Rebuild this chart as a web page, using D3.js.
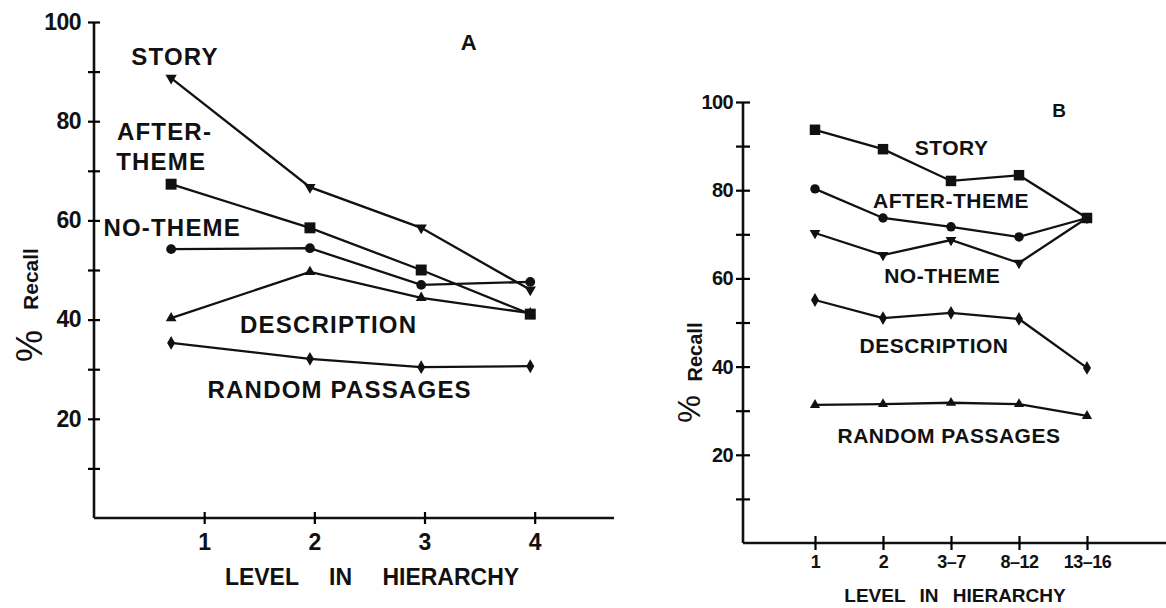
<!DOCTYPE html>
<html>
<head>
<meta charset="utf-8">
<script src="https://cdn.jsdelivr.net/npm/d3@7"></script>
<style>
  html, body { margin: 0; padding: 0; background: #fff; }
  svg text { font-family: "Liberation Sans", Arial, sans-serif; font-weight: bold; fill: #111; }
</style>
</head>
<body>
<svg id="chart" width="1166" height="608"></svg>
<script>
// ---- panel A data (x = where each point sits on the level axis) ----
var levelsA = [0.7, 1.96, 2.97, 3.96];
var ticksA = [1, 2, 3, 4];
var storyA = [88.7, 66.7, 58.5, 46.0];
var afterThemeA = [67.3, 58.5, 50.0, 41.1];
var noThemeA = [54.2, 54.4, 47.0, 47.6];
var descriptionA = [40.3, 49.6, 44.4, 41.3];
var randomA = [35.3, 32.1, 30.4, 30.6];

// ---- panel B data ----
var levelsB = ["1", "2", "3\u20137", "8\u201312", "13\u201316"];
var storyB = [93.7, 89.3, 82.1, 83.4, 73.7];
var afterThemeB = [80.3, 73.7, 71.7, 69.4, 73.7];
var noThemeB = [70.3, 65.3, 68.7, 63.5, 73.7];
var descriptionB = [55.1, 51.0, 52.2, 50.8, 39.7];
var randomB = [31.3, 31.5, 31.8, 31.5, 28.8];

var yLabelTicks = [20, 40, 60, 80, 100];

var svg = d3.select("#chart");

// symbols
var sym = {
  square: d3.symbol().type(d3.symbolSquare),
  circle: d3.symbol().type(d3.symbolCircle),
  tri: d3.symbol().type(d3.symbolTriangle),
  diamond: d3.symbol().type(d3.symbolDiamond)
};

function drawSeries(g, xs, ys, xf, yf, shape, size, flip) {
  var pts = ys.map(function (v, i) { return [xf(xs[i]), yf(v)]; });
  g.append("path")
    .attr("d", d3.line()(pts))
    .attr("fill", "none")
    .attr("stroke", "#111")
    .attr("stroke-width", 2.3);
  g.selectAll(null).data(pts).enter().append("path")
    .attr("d", sym[shape].size(size)())
    .attr("transform", function (p) { return "translate(" + p[0] + "," + p[1] + ")" + (flip ? " rotate(180)" : ""); })
    .attr("fill", "#111");
}

function crossTicksY(sel, k) {
  sel.selectAll(".tick line").attr("x1", k).attr("stroke-width", 2.2);
  sel.select(".domain").remove();
}
function crossTicksX(sel, k) {
  sel.selectAll(".tick line").attr("y1", -k).attr("stroke-width", 2.2);
  sel.select(".domain").remove();
}

// ================= PANEL A =================
var xA = d3.scaleLinear().domain([0, 4.72]).range([94, 614]);
var yA = d3.scaleLinear().domain([0, 100]).range([518, 22]);
var gA = svg.append("g");

gA.append("line").attr("x1", xA(0)).attr("x2", xA(0)).attr("y1", yA(0)).attr("y2", yA(100))
  .attr("stroke", "#111").attr("stroke-width", 2.6);
gA.append("line").attr("x1", xA(0)).attr("x2", xA(4.72)).attr("y1", yA(0)).attr("y2", yA(0))
  .attr("stroke", "#111").attr("stroke-width", 2.6);

gA.append("g").attr("transform", "translate(" + xA(0) + ",0)")
  .call(d3.axisLeft(yA).tickValues(d3.range(10, 101, 10)).tickSize(6).tickPadding(7)
    .tickFormat(function (d) { return yLabelTicks.indexOf(d) >= 0 ? d : ""; }))
  .call(crossTicksY, 6)
  .selectAll("text").style("font-size", "23px").attr("letter-spacing", "-0.5");

gA.append("g").attr("transform", "translate(0," + yA(0) + ")")
  .call(d3.axisBottom(xA).tickValues(ticksA).tickSize(6).tickPadding(10).tickFormat(d3.format("d")))
  .call(crossTicksX, 6)
  .selectAll("text").style("font-size", "23px");

gA.selectAll(".tick text").attr("fill", "#111").attr("font-family", null);

drawSeries(gA, levelsA, storyA, xA, yA, "tri", 55, true);
drawSeries(gA, levelsA, afterThemeA, xA, yA, "square", 120, false);
drawSeries(gA, levelsA, noThemeA, xA, yA, "circle", 75, false);
drawSeries(gA, levelsA, descriptionA, xA, yA, "tri", 50, false);
drawSeries(gA, levelsA, randomA, xA, yA, "diamond", 55, false);

var labelsA = [
  { t: "STORY", x: 0.735, y: 91.3 },
  { t: "AFTER-", x: 0.64, y: 76.2 },
  { t: "THEME", x: 0.61, y: 70.2 },
  { t: "NO-THEME", x: 0.71, y: 56.9 },
  { t: "DESCRIPTION", x: 2.13, y: 37.3 },
  { t: "RANDOM PASSAGES", x: 2.23, y: 24.2 }
];
gA.selectAll(null).data(labelsA).enter().append("text")
  .attr("x", function (d) { return xA(d.x); })
  .attr("y", function (d) { return yA(d.y); })
  .attr("text-anchor", "middle")
  .attr("letter-spacing", "1.2")
  .style("font-size", "24px")
  .text(function (d) { return d.t; });

gA.append("text").attr("x", xA(3.40)).attr("y", yA(94.4)).attr("text-anchor", "middle")
  .style("font-size", "22px").text("A");

gA.append("text").attr("x", 372).attr("y", 585).attr("text-anchor", "middle")
  .attr("word-spacing", "24").style("font-size", "23px").text("LEVEL IN HIERARCHY");

gA.append("text").attr("transform", "translate(38,279) rotate(-90)").attr("text-anchor", "middle")
  .style("font-size", "21px").text("Recall");
gA.append("text").attr("transform", "translate(42,346) rotate(-90)").attr("text-anchor", "middle")
  .style("font-size", "36px").style("font-weight", "normal").text("%");

// ================= PANEL B =================
var xB = d3.scalePoint().domain(levelsB).range([815, 1087]);
var yB = d3.scaleLinear().domain([0, 100]).range([543, 102]);
var xBi = d3.scaleLinear().domain([0, 4]).range([815, 1087]);
var gB = svg.append("g");

gB.append("line").attr("x1", 743).attr("x2", 743).attr("y1", yB(0)).attr("y2", yB(100))
  .attr("stroke", "#111").attr("stroke-width", 2.6);
gB.append("line").attr("x1", 743).attr("x2", 1166).attr("y1", yB(0)).attr("y2", yB(0))
  .attr("stroke", "#111").attr("stroke-width", 2.6);

gB.append("g").attr("transform", "translate(743,0)")
  .call(d3.axisLeft(yB).tickValues(d3.range(10, 101, 10)).tickSize(7).tickPadding(3)
    .tickFormat(function (d) { return yLabelTicks.indexOf(d) >= 0 ? d : ""; }))
  .call(crossTicksY, 7)
  .selectAll("text").style("font-size", "20px").attr("letter-spacing", "-0.6");

gB.append("g").attr("transform", "translate(0," + yB(0) + ")")
  .call(d3.axisBottom(xB).tickSize(7).tickPadding(5))
  .call(crossTicksX, 7)
  .selectAll("text").style("font-size", "18px").attr("letter-spacing", "-0.5");

gB.selectAll(".tick text").attr("fill", "#111").attr("font-family", null);

drawSeries(gB, levelsB, storyB, xB, yB, "square", 110, false);
drawSeries(gB, levelsB, afterThemeB, xB, yB, "circle", 70, false);
drawSeries(gB, levelsB, noThemeB, xB, yB, "tri", 50, true);
drawSeries(gB, levelsB, descriptionB, xB, yB, "diamond", 55, false);
drawSeries(gB, levelsB, randomB, xB, yB, "tri", 45, false);

var labelsB = [
  { t: "STORY", x: 2.01, y: 88.0 },
  { t: "AFTER-THEME", x: 2.0, y: 76.0 },
  { t: "NO-THEME", x: 1.87, y: 59.0 },
  { t: "DESCRIPTION", x: 1.75, y: 43.1 },
  { t: "RANDOM PASSAGES", x: 1.97, y: 22.7 }
];
gB.selectAll(null).data(labelsB).enter().append("text")
  .attr("x", function (d) { return xBi(d.x); })
  .attr("y", function (d) { return yB(d.y); })
  .attr("text-anchor", "middle")
  .attr("letter-spacing", "0.5")
  .style("font-size", "21px")
  .text(function (d) { return d.t; });

gB.append("text").attr("x", xBi(3.59)).attr("y", yB(96.6)).attr("text-anchor", "middle")
  .style("font-size", "19px").text("B");

gB.append("text").attr("x", 955).attr("y", 602).attr("text-anchor", "middle")
  .attr("word-spacing", "9").style("font-size", "19px").text("LEVEL IN HIERARCHY");

gB.append("text").attr("transform", "translate(702,352) rotate(-90)").attr("text-anchor", "middle")
  .style("font-size", "20px").text("Recall");
gB.append("text").attr("transform", "translate(700,409) rotate(-90)").attr("text-anchor", "middle")
  .style("font-size", "31px").style("font-weight", "normal").text("%");
</script>
</body>
</html>
